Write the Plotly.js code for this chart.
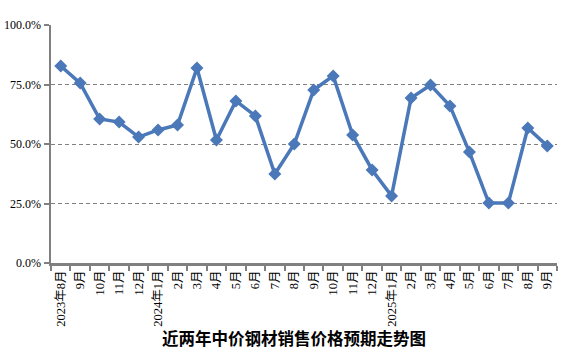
<!DOCTYPE html>
<html><head><meta charset="utf-8">
<script src="https://cdn.plot.ly/plotly-3.0.1.min.js"></script>
<style>body{margin:0;background:#fff}#c{width:578px;height:357px}</style>
</head><body><div id="c"></div>
<script>
const months = ["2023-08","2023-09","2023-10","2023-11","2023-12","2024-01","2024-02","2024-03","2024-04","2024-05","2024-06","2024-07","2024-08","2024-09","2024-10","2024-11","2024-12","2025-01","2025-02","2025-03","2025-04","2025-05","2025-06","2025-07","2025-08","2025-09"];
const tickLabels = ["2023年8月","9月","10月","11月","12月","2024年1月","2月","3月","4月","5月","6月","7月","8月","9月","10月","11月","12月","2025年1月","2月","3月","4月","5月","6月","7月","8月","9月"];
const values = [0.828,0.756,0.605,0.592,0.529,0.559,0.580,0.819,0.517,0.681,0.618,0.374,0.500,0.727,0.786,0.538,0.391,0.282,0.693,0.748,0.660,0.466,0.252,0.252,0.567,0.492];
const yTicks = [0,0.25,0.5,0.75,1.0];

const color = '#4a78b8';
Plotly.newPlot('c', [{
  x: months, y: values, type: 'scatter', mode: 'lines+markers',
  line: {color: color, width: 3.5},
  marker: {symbol: 'diamond', size: 10, color: color},
  hoverinfo: 'skip'
}], {
  width: 578, height: 357,
  margin: {l: 51, r: 21, t: 25, b: 94},
  paper_bgcolor: '#fff', plot_bgcolor: '#fff',
  showlegend: false,
  font: {family: '"Liberation Serif", "Noto Sans CJK SC", serif', color: '#000', size: 12},
  xaxis: {
    type: 'category', tickvals: months, ticktext: tickLabels,
    tickangle: -90, tickson: 'boundaries', ticks: 'outside', ticklen: 5,
    tickcolor: '#808080', tickwidth: 2,
    showline: true, linecolor: '#808080', linewidth: 2.5,
    showgrid: false, zeroline: false, range: [-0.5, 25.5],
    tickfont: {size: 12.5, family: '"Liberation Serif", "Noto Sans CJK SC", serif'}
  },
  yaxis: {
    range: [0, 1], tickvals: yTicks, tickformat: '.1%',
    ticks: 'outside', ticklen: 5, tickcolor: '#808080', tickwidth: 2,
    showline: true, linecolor: '#808080', linewidth: 2.5,
    showgrid: true, gridcolor: '#808080', griddash: '4px,3px', gridwidth: 1,
    zeroline: false,
    tickfont: {size: 12, family: '"Liberation Serif", serif'}
  },
  annotations: [{
    text: '<b>近两年中价钢材销售价格预期走势图</b>', xref: 'paper', yref: 'paper',
    x: 0.48, y: 0, yshift: -75, xanchor: 'center', yanchor: 'middle', showarrow: false,
    font: {size: 16.5, family: '"Noto Sans CJK SC", sans-serif', color: '#000', weight: 900}
  }]
}, {displayModeBar: false, staticPlot: true});
</script></body></html>
